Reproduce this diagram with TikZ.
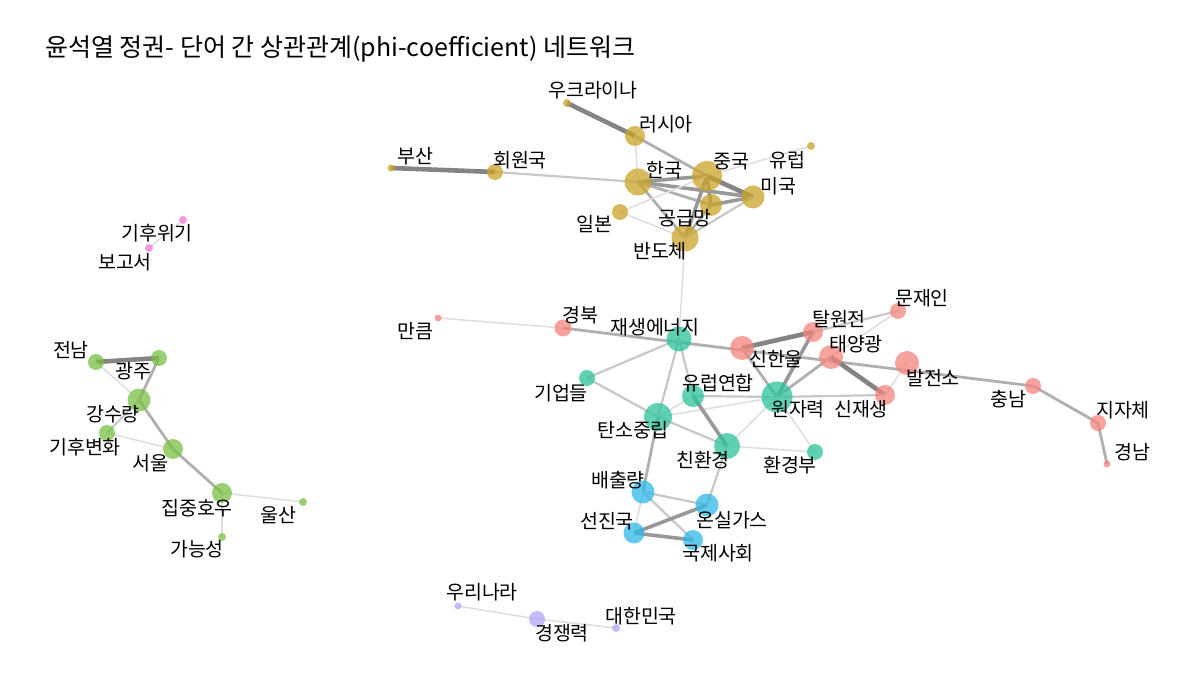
\documentclass[tikz,border=0pt]{standalone}
\usepackage{fontspec}
\setmainfont{Noto Sans CJK KR}
\usetikzlibrary{backgrounds}
\definecolor{cy}{RGB}{204,164,41}
\definecolor{ct}{RGB}{43,196,154}
\definecolor{cr}{RGB}{244,131,125}
\definecolor{cg}{RGB}{122,193,67}
\definecolor{cb}{RGB}{46,185,232}
\definecolor{cp}{RGB}{179,165,245}
\definecolor{ck}{RGB}{238,122,216}
\definecolor{ea}{RGB}{222,222,222}
\definecolor{eb}{RGB}{200,200,200}
\definecolor{ec}{RGB}{176,176,176}
\definecolor{ed}{RGB}{152,152,152}
\definecolor{ee}{RGB}{132,132,132}
\tikzset{
  v/.style={circle,inner sep=0pt,fill opacity=0.75,draw=none},
  lab/.style={inner sep=0pt,font=\fontsize{19.5}{22}\selectfont,text=black},
  e1/.style={ea,line width=1.5pt},
  e2/.style={eb,line width=2.2pt},
  e3/.style={ec,line width=2.8pt},
  e4/.style={ed,line width=3.6pt},
  e5/.style={ee,line width=4.6pt},
}
\newcommand{\vv}[5]{\node[v,fill=#1,minimum size=#5pt] (#2) at (#3,#4) {};}
\begin{document}
\begin{tikzpicture}[x=1pt,y=-1pt]
\useasboundingbox (0,0) rectangle (1200,700);
\node[inner sep=0pt,anchor=west,font=\fontsize{25}{28}\selectfont] (title) at (45,49) {윤석열 정권- 단어 간 상관관계(phi-coefficient) 네트워크};
% yellow
\vv{cy}{ukr}{567}{103}{8}
\vv{cy}{rus}{635}{136}{20}
\vv{cy}{bus}{391}{168}{7}
\vv{cy}{hoe}{495}{172}{16}
\vv{cy}{kor}{638}{182}{27}
\vv{cy}{chn}{707}{176}{30}
\vv{cy}{eu}{811}{146}{8}
\vv{cy}{usa}{753}{197}{23}
\vv{cy}{sup}{711}{205}{22}
\vv{cy}{jpn}{620}{212}{16}
\vv{cy}{semi}{685}{238}{27}
% teal
\vv{ct}{ren}{679}{339}{25}
\vv{ct}{corp}{587}{378}{16}
\vv{ct}{euu}{693}{396}{22}
\vv{ct}{carb}{658}{417}{28}
\vv{ct}{eco}{727}{446}{26}
\vv{ct}{nuc}{777}{397}{31}
\vv{ct}{env}{815}{452}{16}
% red
\vv{cr}{mank}{438}{318}{7}
\vv{cr}{gb}{563}{328}{17}
\vv{cr}{moon}{898}{311}{16}
\vv{cr}{tal}{813}{332}{20}
\vv{cr}{shu}{742}{348}{24}
\vv{cr}{sol}{831}{357}{24}
\vv{cr}{plant}{907}{363}{24}
\vv{cr}{sjs}{885}{395}{20}
\vv{cr}{cn}{1033}{386}{16}
\vv{cr}{local}{1098}{423}{16}
\vv{cr}{gn}{1107}{464}{7}
% blue
\vv{cb}{emis}{643}{492}{23}
\vv{cb}{ghg}{707}{505}{23}
\vv{cb}{adv}{634}{533}{21}
\vv{cb}{intl}{693}{540}{20}
% green
\vv{cg}{jn}{96}{362}{16}
\vv{cg}{gj}{159}{358}{16}
\vv{cg}{rain}{139}{400}{23}
\vv{cg}{clim}{107}{433}{16}
\vv{cg}{seoul}{173}{449}{20}
\vv{cg}{heavy}{222}{493}{20}
\vv{cg}{ulsan}{303}{502}{8}
\vv{cg}{poss}{222}{537}{8}
% purple
\vv{cp}{wr}{458}{606}{7}
\vv{cp}{comp}{537}{619}{16}
\vv{cp}{kr}{616}{628}{8}
% pink
\vv{ck}{crisis}{183}{220}{8}
\vv{ck}{report}{149}{248}{8}
% labels
\node[lab] (l1) at (593,90) {우크라이나};
\node[lab] (l2) at (666,124) {러시아};
\node[lab] (l3) at (415,156) {부산};
\node[lab] (l4) at (520,160) {회원국};
\node[lab] (l5) at (664,170) {한국};
\node[lab] (l6) at (731,162) {중국};
\node[lab] (l7) at (787,160) {유럽};
\node[lab] (l8) at (778,186) {미국};
\node[lab] (l9) at (685,218) {공급망};
\node[lab] (l10) at (594,224) {일본};
\node[lab] (l11) at (660,251) {반도체};
\node[lab] (l12) at (415,331) {만큼};
\node[lab] (l13) at (580,315) {경북};
\node[lab] (l14) at (655,327) {재생에너지};
\node[lab] (l15) at (561,393) {기업들};
\node[lab] (l16) at (718,383) {유럽연합};
\node[lab] (l17) at (633,430) {탄소중립};
\node[lab] (l18) at (703,460) {친환경};
\node[lab] (l19) at (922,298) {문재인};
\node[lab] (l20) at (839,319) {탈원전};
\node[lab] (l21) at (776,359) {신한울};
\node[lab] (l22) at (856,344) {태양광};
\node[lab] (l23) at (933,378) {발전소};
\node[lab] (l24) at (798,409) {원자력};
\node[lab] (l25) at (861,409) {신재생};
\node[lab] (l26) at (1008,399) {충남};
\node[lab] (l27) at (1123,410) {지자체};
\node[lab] (l28) at (1132,452) {경남};
\node[lab] (l29) at (790,465) {환경부};
\node[lab] (l30) at (618,480) {배출량};
\node[lab] (l31) at (732,520) {온실가스};
\node[lab] (l32) at (607,521) {선진국};
\node[lab] (l33) at (718,553) {국제사회};
\node[lab] (l34) at (71,350) {전남};
\node[lab] (l35) at (133,371) {광주};
\node[lab] (l36) at (113,414) {강수량};
\node[lab] (l37) at (85,447) {기후변화};
\node[lab] (l38) at (150,463) {서울};
\node[lab] (l39) at (197,508) {집중호우};
\node[lab] (l40) at (278,515) {울산};
\node[lab] (l41) at (197,549) {가능성};
\node[lab] (l42) at (482,592) {우리나라};
\node[lab] (l43) at (562,633) {경쟁력};
\node[lab] (l44) at (641,616) {대한민국};
\node[lab] (l45) at (157,233) {기후위기};
\node[lab] (l46) at (125,262) {보고서};
\begin{pgfonlayer}{background}
\fill[white] (0,0) rectangle (1200,700);
\foreach \a/\b/\s in {ukr/rus/e5, rus/chn/e3, rus/kor/e1, bus/hoe/e5, hoe/kor/e2, kor/chn/e4, kor/usa/e4, kor/sup/e3, kor/semi/e3, chn/eu/e1, chn/usa/e5, chn/sup/e4, chn/semi/e4, sup/usa/e4, sup/semi/e3, usa/semi/e2, jpn/chn/e1, jpn/semi/e1, semi/ren/e1,
 mank/gb/e1, gb/cn/e3, shu/tal/e5, shu/nuc/e3, tal/nuc/e4, tal/moon/e2, moon/sol/e1, sol/nuc/e3, sol/sjs/e5, plant/sjs/e1, euu/nuc/e2, nuc/sjs/e2, carb/nuc/e1, euu/carb/e1, ren/corp/e2, ren/carb/e2, ren/euu/e2, corp/carb/e2, carb/eco/e2, euu/eco/e4, eco/env/e1, eco/nuc/e1, nuc/env/e1, eco/ghg/e2, carb/emis/e3, cn/local/e3, local/gn/e3,
 emis/ghg/e2, emis/adv/e1, emis/intl/e2, adv/ghg/e4, adv/intl/e4,
 jn/gj/e5, gj/rain/e3, jn/rain/e1, rain/clim/e2, clim/seoul/e1, rain/seoul/e3, seoul/heavy/e3, heavy/ulsan/e1, heavy/poss/e1,
 wr/comp/e1, comp/kr/e1, crisis/report/e1}
  \draw[\s] (\a.center) -- (\b.center);
\end{pgfonlayer}
\end{tikzpicture}
\end{document}
